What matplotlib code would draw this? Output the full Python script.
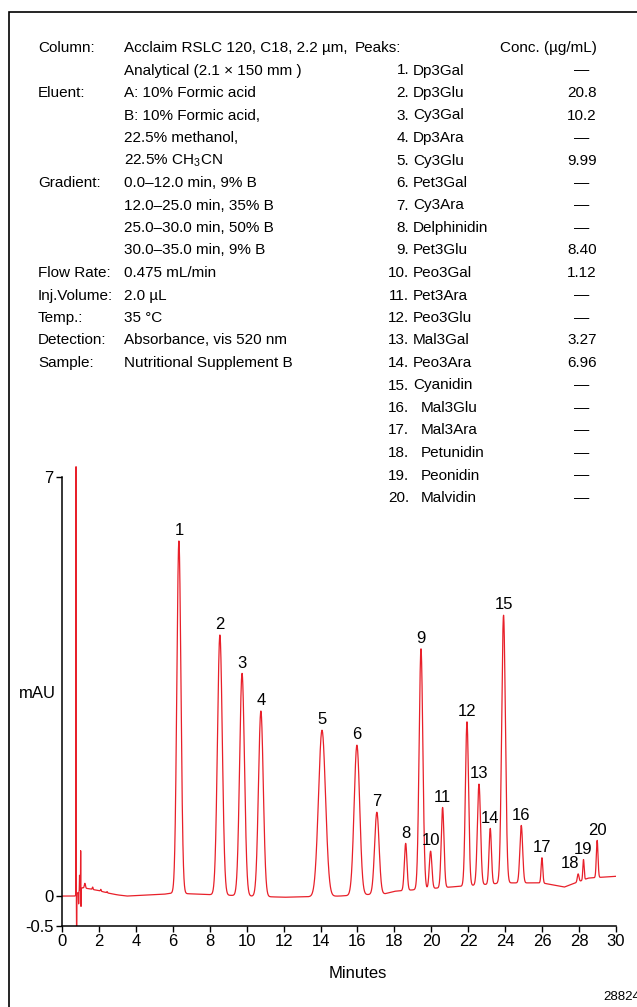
import numpy as np
import matplotlib
matplotlib.use("Agg")
import matplotlib.pyplot as plt
from matplotlib.patches import Rectangle

plt.rcParams['font.family'] = ['Liberation Sans', 'DejaVu Sans']
plt.rcParams['mathtext.fontset'] = 'custom'
plt.rcParams['mathtext.rm'] = 'Liberation Sans'

# Conditions (left block)
cond_labels = ["Column:", "", "Eluent:", "", "", "", "Gradient:", "", "", "",
               "Flow Rate:", "Inj.Volume:", "Temp.:", "Detection:", "Sample:"]
cond_values = ["Acclaim RSLC 120, C18, 2.2 µm,", "Analytical (2.1 × 150 mm )",
               "A: 10% Formic acid", "B: 10% Formic acid,", "22.5% methanol,",
               r"22.5% CH$_\mathrm{3}$CN", "0.0–12.0 min, 9% B", "12.0–25.0 min, 35% B",
               "25.0–30.0 min, 50% B", "30.0–35.0 min, 9% B", "0.475 mL/min",
               "2.0 µL", "35 °C", "Absorbance, vis 520 nm", "Nutritional Supplement B"]

# Peak table
peak_names = ["Dp3Gal", "Dp3Glu", "Cy3Gal", "Dp3Ara", "Cy3Glu", "Pet3Gal", "Cy3Ara",
              "Delphinidin", "Pet3Glu", "Peo3Gal", "Pet3Ara", "Peo3Glu", "Mal3Gal",
              "Peo3Ara", "Cyanidin", "Mal3Glu", "Mal3Ara", "Petunidin", "Peonidin", "Malvidin"]
peak_conc = ["—", "20.8", "10.2", "—", "9.99", "—", "—", "—", "8.40", "1.12",
             "—", "—", "3.27", "6.96", "—", "—", "—", "—", "—", "—"]

# Chromatogram peaks (min, mAU at apex, width in min)
peak_time = [6.33, 8.55, 9.75, 10.77, 14.08, 15.97, 17.05, 18.61, 19.44, 19.96,
             20.61, 21.93, 22.58, 23.19, 23.91, 24.87, 25.99, 27.95, 28.24, 28.98]
peak_top = [5.93, 4.36, 3.72, 3.09, 2.77, 2.52, 1.40, 0.88, 4.13, 0.75,
            1.48, 2.91, 1.87, 1.13, 4.69, 1.18, 0.64, 0.37, 0.61, 0.93]
peak_sigma = [0.11, 0.13, 0.13, 0.13, 0.19, 0.15, 0.12, 0.07, 0.10, 0.07,
              0.075, 0.085, 0.085, 0.065, 0.10, 0.075, 0.045, 0.045, 0.035, 0.045]

# Injection disturbance and small early bumps (min, mAU, width)
void_time = [0.76, 0.79, 0.90, 0.95, 1.01, 1.03, 1.24, 1.66, 2.10, 2.44]
void_height = [7.15, -0.72, -0.2, 0.26, 0.65, -0.29, 0.08, 0.04, 0.03, 0.02]
void_sigma = [0.006, 0.006, 0.008, 0.008, 0.006, 0.006, 0.03, 0.02, 0.02, 0.02]

# Baseline drift
base_t = [0.0, 0.7, 1.1, 1.5, 2.0, 2.5, 3.0, 3.5, 5.5, 6.0, 7.5, 12.0, 15.0,
          17.5, 18.0, 21.0, 24.0, 26.0, 27.2, 28.5, 30.0]
base_y = [0.0, 0.0, 0.14, 0.12, 0.09, 0.05, 0.02, 0.0, 0.03, 0.05, 0.03, -0.02, 0.0,
          0.04, 0.08, 0.15, 0.22, 0.22, 0.15, 0.30, 0.33]

t = np.linspace(0, 30, 15001)
base = np.interp(t, base_t, base_y)
trace = base.copy()
for tc, h, s in zip(void_time, void_height, void_sigma):
    trace += h * np.exp(-0.5 * ((t - tc) / s) ** 2)
for tc, top, s in zip(peak_time, peak_top, peak_sigma):
    h = top - np.interp(tc, base_t, base_y)
    trace += h * np.exp(-0.5 * ((t - tc) / s) ** 2)

W, H = 637, 1007
fig = plt.figure(figsize=(W / 100, H / 100), dpi=100)


def fx(px):
    return px / W


def fy(py):
    return 1 - py / H


# outer frame (right and bottom run off the page)
fig.add_artist(Rectangle((fx(9), -0.1), 1.2, fy(12) + 0.1, transform=fig.transFigure,
                         fill=False, lw=1.2, ec='black', clip_on=False))

fs = 11
row = 22.5
y0 = 48
for i, (lab, val) in enumerate(zip(cond_labels, cond_values)):
    yy = fy(y0 + i * row)
    if lab:
        fig.text(fx(38), yy, lab, fontsize=fs, va='center', ha='left')
    fig.text(fx(124), yy, val, fontsize=fs, va='center', ha='left')

fig.text(fx(355), fy(y0), "Peaks:", fontsize=fs, va='center', ha='left')
fig.text(fx(597), fy(y0), "Conc. (µg/mL)", fontsize=fs, va='center', ha='right')
for i, (name, conc) in enumerate(zip(peak_names, peak_conc)):
    yy = fy(y0 + (i + 1) * row)
    n = i + 1
    fig.text(fx(409), yy, f"{n}.", fontsize=fs, va='center', ha='right')
    fig.text(fx(421 if n >= 16 else 413), yy, name, fontsize=fs, va='center', ha='left')
    fig.text(fx(582), yy, conc, fontsize=fs, va='center', ha='center')

# chromatogram axes
ax = fig.add_axes([fx(62), fy(926), fx(616) - fx(62), fy(459) - fy(926)])
ax.plot(t, trace, color='#e8202a', lw=0.9)
ax.set_xlim(0, 30)
ax.set_ylim(-0.5, 7.3)
ax.spines['top'].set_visible(False)
ax.spines['right'].set_visible(False)
ax.spines['left'].set_bounds(-0.5, 7)
ax.set_xticks(np.arange(0, 31, 2))
ax.set_yticks([-0.5, 0, 7])
ax.set_yticklabels(["-0.5", "0", "7"])
ax.tick_params(labelsize=12, length=4, width=1, pad=2)
for sp in ax.spines.values():
    sp.set_linewidth(1.1)

label_dx = {18: -6}
for n, (tc, top) in enumerate(zip(peak_time, peak_top), start=1):
    ax.annotate(str(n), (tc, top), xytext=(label_dx.get(n, 0), 2), textcoords='offset points',
                ha='center', va='bottom', fontsize=12)

fig.text(fx(37), fy(693), "mAU", fontsize=12, ha='center', va='center')
fig.text(fx(358), fy(973), "Minutes", fontsize=12, ha='center', va='center')
fig.text(fx(603), fy(997), "28824", fontsize=9.5, ha='left', va='center')

fig.savefig("out.png", dpi=100)
